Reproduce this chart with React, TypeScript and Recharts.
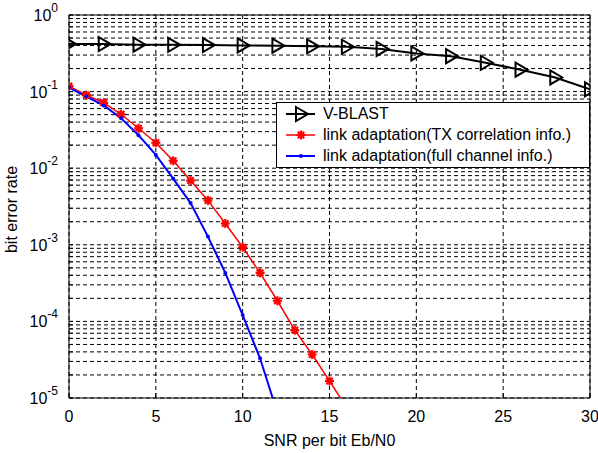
import React from 'react'
import { LineChart, Line, XAxis, YAxis, CartesianGrid, ReferenceArea, Legend } from 'recharts'

// V-BLAST, markers every 2 dB
const vblastSnr = [0, 2, 4, 6, 8, 10, 12, 14, 16, 18, 20, 22, 24, 26, 28, 30]
const vblastBer = [0.417, 0.417, 0.41, 0.408, 0.405, 0.4, 0.397, 0.39, 0.385, 0.36, 0.315, 0.29, 0.238, 0.193, 0.153, 0.107]

// link adaptation curves, 1 dB steps
const corrSnr = [0, 1, 2, 3, 4, 5, 6, 7, 8, 9, 10, 11, 12, 13, 14, 15, 16]
const corrBer = [0.118, 0.09, 0.0716, 0.0506, 0.0332, 0.0215, 0.0125, 0.0069, 0.0038, 0.0019, 0.00093, 0.00043, 0.000186, 0.000077, 0.000037, 0.0000167, 0.0000074]

const fullSnr = [0, 1, 2, 3, 4, 5, 6, 7, 8, 9, 10, 11, 12]
const fullBer = [0.113, 0.086, 0.066, 0.045, 0.027, 0.0149, 0.0073, 0.0035, 0.00128, 0.00043, 0.000121, 0.000033, 0.0000064]

const xTicks = [0, 5, 10, 15, 20, 25, 30]
const yDecades = [1e-5, 1e-4, 1e-3, 1e-2, 1e-1, 1]
const yMinor = [2, 3, 4, 5, 6, 7, 8, 9]

const seriesNames = ['V-BLAST', 'link adaptation(TX correlation info.)', 'link adaptation(full channel info.)']

const FONT = '"Liberation Sans", Arial, Helvetica, sans-serif'

const toRows = (xs: number[], ys: number[]) => xs.map((snr, i) => ({ snr, ber: ys[i] }))
const vblastData = toRows(vblastSnr, vblastBer)
const corrData = toRows(corrSnr, corrBer)
const fullData = toRows(fullSnr, fullBer)

const yTicks: number[] = []
yDecades.forEach((d) => {
  yTicks.push(d)
  if (d < 1) yMinor.forEach((m) => yTicks.push(m * d))
})
yTicks.sort((a, b) => a - b)

const isDecade = (v: number) => Math.abs(Math.log10(v) - Math.round(Math.log10(v))) < 1e-9

function Triangle({ cx, cy }: { cx: number; cy: number }) {
  return (
    <polygon
      points={`${cx - 5},${cy - 7} ${cx + 7},${cy} ${cx - 5},${cy + 7}`}
      fill="none"
      stroke="#000"
      strokeWidth={2}
    />
  )
}

function Star({ cx, cy }: { cx: number; cy: number }) {
  const r = 4.5
  const d = r * 0.72
  return (
    <g stroke="#f00" strokeWidth={2.2}>
      <line x1={cx - r} y1={cy} x2={cx + r} y2={cy} />
      <line x1={cx} y1={cy - r} x2={cx} y2={cy + r} />
      <line x1={cx - d} y1={cy - d} x2={cx + d} y2={cy + d} />
      <line x1={cx - d} y1={cy + d} x2={cx + d} y2={cy - d} />
      <circle cx={cx} cy={cy} r={2.5} fill="#f00" stroke="none" />
    </g>
  )
}

function Dot({ cx, cy }: { cx: number; cy: number }) {
  return <circle cx={cx} cy={cy} r={2} fill="#00f" />
}

const inRange = (p: any) => p.payload && p.payload.ber >= 1e-5 && p.cx != null && p.cy != null

function YTick(props: any) {
  const { x, y, payload } = props
  if (!isDecade(payload.value)) return <g />
  const exp = Math.round(Math.log10(payload.value))
  return (
    <text x={x - 13} y={y + 6} textAnchor="end" fontSize={16} fontFamily={FONT} fill="#000">
      10
      <tspan dy={-9} fontSize={12}>{String(exp)}</tspan>
    </text>
  )
}

function XTick(props: any) {
  const { x, y, payload } = props
  return (
    <text x={x} y={y + 27} textAnchor="middle" fontSize={16} fontFamily={FONT} fill="#000">
      {payload.value}
    </text>
  )
}

function LegendBox() {
  const rows = [
    { name: seriesNames[0], color: '#000', width: 2, marker: <Triangle cx={16} cy={10} /> },
    { name: seriesNames[1], color: '#f00', width: 1.5, marker: <Star cx={16} cy={10} /> },
    { name: seriesNames[2], color: '#00f', width: 2, marker: <Dot cx={16} cy={10} /> },
  ]
  return (
    <div
      style={{
        position: 'relative',
        width: 312,
        height: 64,
        border: '1px solid #000',
        background: '#fff',
        fontFamily: FONT,
        fontSize: 16,
        color: '#000',
      }}
    >
      {rows.map((r, i) => (
        <div key={r.name} style={{ position: 'absolute', left: 0, top: 1 + i * 21, height: 21, width: 312 }}>
          <svg width={32} height={20} style={{ position: 'absolute', left: 8, top: 0 }}>
            <line x1={1} y1={10} x2={30} y2={10} stroke={r.color} strokeWidth={r.width} />
            {r.marker}
          </svg>
          <span style={{ position: 'absolute', left: 46, top: 0, lineHeight: '20px', whiteSpace: 'nowrap' }}>{r.name}</span>
        </div>
      ))}
    </div>
  )
}

export default function App() {
  return (
    <div style={{ position: 'absolute', left: 0, top: 0, width: 598, height: 453, background: '#fff' }}>
      <LineChart width={598} height={453} margin={{ top: 15, right: 8, bottom: 0, left: 0 }}>
        <CartesianGrid stroke="#000" strokeDasharray="4 3" strokeWidth={1} />
        <XAxis
          dataKey="snr"
          type="number"
          domain={[0, 30]}
          ticks={xTicks}
          interval={0}
          allowDataOverflow
          axisLine={false}
          tickLine={{ stroke: '#000' }}
          tickSize={-5}
          height={55}
          tick={<XTick />}
          label={{
            content: (p: any) => {
              const vb = p.viewBox
              return (
                <text x={vb.x + vb.width / 2} y={vb.y + 48} textAnchor="middle" fontSize={16} fontFamily={FONT} fill="#000">
                  SNR per bit Eb/N0
                </text>
              )
            },
          }}
        />
        <YAxis
          scale="log"
          type="number"
          domain={[1e-5, 1]}
          ticks={yTicks}
          interval={0}
          allowDataOverflow
          axisLine={false}
          tickLine={{ stroke: '#000' }}
          tickSize={-4}
          width={69}
          tick={<YTick />}
          label={{
            content: (p: any) => {
              const vb = p.viewBox
              const cx = vb.x + 17
              const cy = vb.y + vb.height / 2 + 3
              return (
                <text x={cx} y={cy} transform={`rotate(-90 ${cx} ${cy})`} textAnchor="middle" fontSize={16} fontFamily={FONT} fill="#000">
                  bit error rate
                </text>
              )
            },
          }}
        />
        <ReferenceArea x1={0} x2={30} y1={1e-5} y2={1} fill="none" stroke="#000" strokeWidth={1} />
        <Line
          data={vblastData}
          dataKey="ber"
          name={seriesNames[0]}
          stroke="#000"
          strokeWidth={2}
          isAnimationActive={false}
          dot={(p: any) => (inRange(p) ? <Triangle key={'v' + p.index} cx={p.cx} cy={p.cy} /> : <g key={'v' + p.index} />)}
        />
        <Line
          data={corrData}
          dataKey="ber"
          name={seriesNames[1]}
          stroke="#f00"
          strokeWidth={1.5}
          isAnimationActive={false}
          dot={(p: any) => (inRange(p) ? <Star key={'c' + p.index} cx={p.cx} cy={p.cy} /> : <g key={'c' + p.index} />)}
        />
        <Line
          data={fullData}
          dataKey="ber"
          name={seriesNames[2]}
          stroke="#00f"
          strokeWidth={2}
          isAnimationActive={false}
          dot={(p: any) => (inRange(p) ? <Dot key={'f' + p.index} cx={p.cx} cy={p.cy} /> : <g key={'f' + p.index} />)}
        />
        <Legend
          layout="vertical"
          align="center"
          verticalAlign="middle"
          content={() => <LegendBox />}
          wrapperStyle={{ left: 276, top: 102, width: 314, height: 66 }}
        />
      </LineChart>
    </div>
  )
}
